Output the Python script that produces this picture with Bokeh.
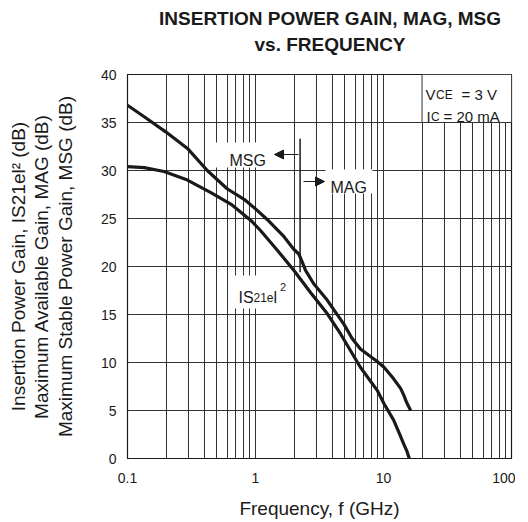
from bokeh.plotting import figure
from bokeh.models import FixedTicker, Arrow, NormalHead, LogAxis
from bokeh.core.properties import value
from bokeh.embed import file_html
from bokeh.resources import INLINE

FONT = "Liberation Sans"
INK = "#1a1a1a"

# ---- data ----
freq_mag = [0.1, 0.135, 0.2, 0.294, 0.42, 0.60, 0.815, 1.0, 1.234, 1.67, 1.99,
            2.18, 2.32, 2.46, 2.85, 3.63, 4.9, 5.69, 6.6, 7.96, 8.93, 10.1,
            12.0, 13.6, 14.4, 15.2, 16.3]
gain_mag = [36.8, 35.6, 34.0, 32.3, 30.0, 28.1, 27.0, 26.0, 24.9, 23.1, 21.8,
            21.3, 20.45, 19.6, 18.2, 16.5, 14.0, 12.5, 11.4, 10.6, 10.1, 9.5,
            8.3, 7.3, 6.6, 5.8, 5.0]

freq_s21 = [0.1, 0.135, 0.193, 0.294, 0.448, 0.641, 0.92, 1.094, 1.48, 1.99,
            2.69, 3.63, 4.61, 6.6, 8.93, 10.1, 12.0, 13.6, 14.4, 15.2, 15.9]
gain_s21 = [30.4, 30.3, 29.9, 29.0, 27.7, 26.5, 24.8, 23.75, 21.7, 19.6,
            17.3, 15.1, 13.0, 9.5, 7.1, 5.7, 4.0, 2.3, 1.5, 0.8, 0.0]

x_major = [0.1, 1, 10, 100]
x_labels = ["0.1", "1", "10", "100"]
x_minor = [m * d for d in (0.1, 1, 10) for m in range(2, 10)]
y_ticks = [0, 5, 10, 15, 20, 25, 30, 35, 40]

title_lines = ["INSERTION POWER GAIN, MAG, MSG", "vs. FREQUENCY"]

boundary_freq = 2.23          # MSG / MAG boundary
boundary_span = (19.4, 33.3)  # dB extent of boundary marker

# ---- geometry helpers (page pixel -> data) for annotations ----
FL, FT, FB, DEC, DB = 127.0, 74.0, 458.0, 128.0, 9.6


def to_data(xp, yp):
    return 10 ** ((xp - FL) / DEC - 1), (FB - yp) / DB


p = figure(frame_width=384, frame_height=384, x_axis_type="log",
           x_range=(0.1, 100), y_range=(0, 40), title=None,
           output_backend="svg", toolbar_location=None,
           min_border_left=int(FL), min_border_right=4,
           min_border_top=int(FT), min_border_bottom=4)

p.background_fill_color = "white"
p.border_fill_color = "white"
p.outline_line_color = INK
p.outline_line_width = 1.2

xt = FixedTicker(ticks=x_major, minor_ticks=x_minor)
yt = FixedTicker(ticks=y_ticks, minor_ticks=[])
p.xaxis.ticker = xt
p.yaxis.ticker = yt
p.xgrid.ticker = xt
p.ygrid.ticker = yt
p.xaxis.major_label_overrides = {k: v for k, v in zip(x_major, x_labels)}

for ax in (p.xaxis, p.yaxis):
    ax.major_tick_line_color = None
    ax.minor_tick_line_color = None
    ax.axis_line_color = INK
    ax.major_label_text_font = FONT
    ax.major_label_text_font_size = "14px"
    ax.major_label_text_color = INK
    ax.axis_label_text_font = FONT
    ax.axis_label_text_font_size = "19px"
    ax.axis_label_text_font_style = "normal"
    ax.axis_label_text_color = INK

p.xaxis.major_label_standoff = 8
p.xaxis.axis_label = "Frequency, f (GHz)"
p.xaxis.axis_label_standoff = 12

p.yaxis.major_label_standoff = 5
p.yaxis.axis_label = ("Insertion Power Gain, IS21el\u00b2 (dB)\n"
                      "Maximum Available Gain, MAG (dB)\n"
                      "Maximum Stable Power Gain, MSG (dB)")
p.yaxis.axis_label_text_line_height = 1.12
p.yaxis.axis_label_standoff = 22

# two-line chart title, carried by a tick-less axis above the frame
# (leading no-break spaces nudge the centred lines slightly to the right)
pad = "\u00a0" * 4
top_axis = LogAxis(ticker=FixedTicker(ticks=[], minor_ticks=[]),
                   axis_label="\n".join(pad + t for t in title_lines),
                   axis_label_text_font=FONT,
                   axis_label_text_font_size="19px",
                   axis_label_text_font_style="bold",
                   axis_label_text_color=INK,
                   axis_label_text_line_height=1.22,
                   axis_label_standoff=20,
                   major_label_standoff=0,
                   axis_line_color=None,
                   major_tick_line_color=None,
                   minor_tick_line_color=None)
p.add_layout(top_axis, "above")

for g in (p.xgrid, p.ygrid):
    g.grid_line_color = "#333333"
    g.grid_line_width = 1
p.xgrid.minor_grid_line_color = "#333333"
p.xgrid.minor_grid_line_width = 1

# white label backgrounds (hide grid lines behind labels)
bl, bb = [], []
br, bt = [], []
for (x0, y0, x1, y1) in [(214, 142, 281, 167),    # MSG
                         (325, 169, 372, 193),    # MAG
                         (233, 275, 290, 308)]:   # |S21e|^2
    a, b = to_data(x0, y1)
    c, d = to_data(x1, y0)
    bl.append(a); bb.append(b); br.append(c); bt.append(d)
p.quad(left=bl, right=br, bottom=bb, top=bt, fill_color="white", line_color=None)
p.quad(left=[20], right=[100], bottom=[35], top=[40], fill_color="white",
       line_color="#333333", line_width=1)

# curves
p.line(freq_mag, gain_mag, line_width=3.2, line_color=INK, line_join="round")
p.line(freq_s21, gain_s21, line_width=3.2, line_color=INK, line_join="round")

# boundary marker
p.segment(x0=[boundary_freq], y0=[boundary_span[0]], x1=[boundary_freq],
          y1=[boundary_span[1]], line_width=1.5, line_color=INK)


def add_text(xp, yp, txt, size):
    x, y = to_data(xp, yp)
    p.text(x=[x], y=[y], text=[txt], text_font=value(FONT),
           text_font_size=f"{size}px", text_baseline="alphabetic",
           text_align="left", text_color=INK)


add_text(229, 160, "MSG", 16)
add_text(330, 187, "MAG", 16)
add_text(238, 296.5, "IS", 16)
add_text(253, 296.5, "21e", 12)
add_text(273, 296.5, "l", 16)
add_text(279.5, 286, "2", 11)

add_text(425, 94, "V", 15)
add_text(435.5, 94, "CE", 12)
add_text(461, 94, "= 3 V", 15)
add_text(426, 116, "I", 15)
add_text(430.5, 116, "C", 12)
add_text(443, 116, "= 20 mA", 15)

# arrows
for (xs, ys, xe, ye) in [(298, 154, 274, 154), (303, 181, 324, 181)]:
    x0, y0 = to_data(xs, ys)
    x1, y1 = to_data(xe, ye)
    p.add_layout(Arrow(end=NormalHead(size=9, fill_color=INK, line_color=INK),
                       x_start=x0, y_start=y0, x_end=x1, y_end=y1,
                       line_width=1.2, line_color=INK))

open("out.html", "w").write(file_html(p, INLINE))
